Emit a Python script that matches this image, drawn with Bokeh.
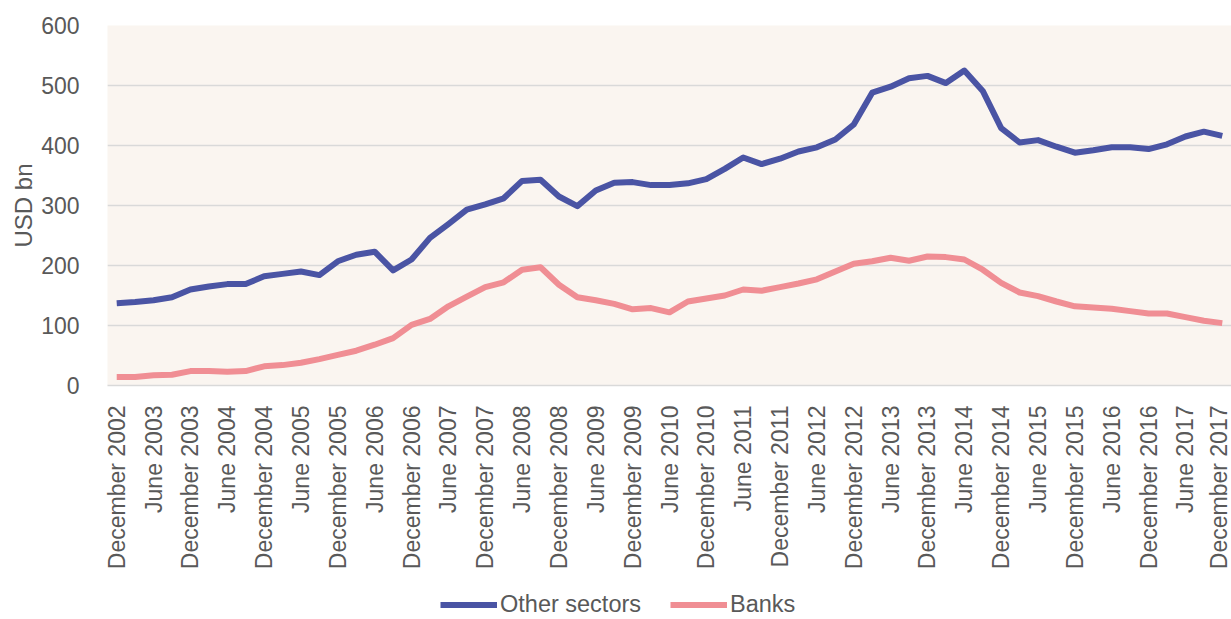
from bokeh.plotting import figure
from bokeh.layouts import column
from bokeh.models import Range1d, FixedTicker, Legend, LegendItem, ColumnDataSource
from bokeh.embed import file_html
from bokeh.resources import INLINE

# ---- data -------------------------------------------------------------
month_cycle = ["December", "March", "June", "September"]
quarters = [f"{month_cycle[i % 4]} {2002 + (i + 3) // 4}" for i in range(61)]

other_sectors = [137, 139, 142, 147, 160, 165, 169, 169, 182, 186, 190, 184, 207, 218, 223,
                 192, 210, 246, 269, 293, 302, 312, 341, 343, 315, 299, 325, 338, 339, 334,
                 334, 337, 344, 361, 380, 369, 378, 390, 397, 410, 435, 488, 498, 512, 516,
                 504, 525, 491, 429, 405, 409, 398, 388, 392, 397, 397, 394, 402, 415, 423, 416]

banks = [14, 14, 17, 18, 24, 24, 23, 24, 32, 34, 38, 44, 51, 58, 68,
         79, 101, 111, 132, 148, 164, 172, 193, 197, 168, 147, 142, 136, 127, 129,
         122, 140, 145, 150, 160, 158, 164, 170, 177, 190, 203, 207, 213, 208, 215,
         214, 210, 193, 171, 155, 149, 140, 132, 130, 128, 124, 120, 120, 114, 108, 104]

y_ticks = [0, 100, 200, 300, 400, 500, 600]
series_names = ["Other sectors", "Banks"]

# ---- styling ----------------------------------------------------------
FONT = "Liberation Sans"
TEXT = "#595959"
BLUE = "#4a54a4"
PINK = "#f08e94"
GRID = "#d9d9d9"
LW = 6

x_idx = list(range(len(quarters)))
src = ColumnDataSource(dict(x=x_idx, other=other_sectors, banks=banks, q=quarters))

p = figure(frame_width=1124, frame_height=360, output_backend="svg", toolbar_location=None,
           x_range=Range1d(-0.5, len(quarters) - 0.5), y_range=Range1d(0, 600),
           min_border_left=107, min_border_right=0, min_border_top=25, min_border_bottom=0)

p.background_fill_color = "#faf5f0"
p.border_fill_color = "white"
p.outline_line_color = None

p.line("x", "other", source=src, line_color=BLUE, line_width=LW, line_join="round")
p.line("x", "banks", source=src, line_color=PINK, line_width=LW, line_join="round")

# x axis
tick_pos = x_idx[::2]
p.xaxis.ticker = FixedTicker(ticks=tick_pos)
p.xaxis.major_label_overrides = {i: quarters[i] for i in tick_pos}
p.xaxis.major_label_orientation = 3.14159265 / 2
p.xaxis.major_tick_line_color = None
p.xaxis.minor_tick_line_color = None
p.xaxis.axis_line_color = GRID
p.xaxis.axis_line_width = 1.5
p.xaxis.major_label_standoff = 14
p.xaxis.major_label_text_font = FONT
p.xaxis.major_label_text_font_size = "23px"
p.xaxis.major_label_text_color = TEXT
p.xgrid.grid_line_color = None

# y axis
p.yaxis.ticker = FixedTicker(ticks=y_ticks)
p.yaxis.axis_line_color = None
p.yaxis.major_tick_line_color = None
p.yaxis.minor_tick_line_color = None
p.yaxis.major_label_standoff = 22
p.yaxis.major_label_text_font = FONT
p.yaxis.major_label_text_font_size = "23px"
p.yaxis.major_label_text_color = TEXT
p.yaxis.axis_label = "USD bn"
p.yaxis.axis_label_text_font = FONT
p.yaxis.axis_label_text_font_size = "24px"
p.yaxis.axis_label_text_font_style = "normal"
p.yaxis.axis_label_text_color = TEXT
p.yaxis.axis_label_standoff = 1
p.ygrid.grid_line_color = GRID
p.ygrid.grid_line_width = 1.5

# ---- legend strip below the chart ---------------------------------------
# same series, drawn out of this strip's view so only the legend shows
lg = figure(width=1231, height=46, output_backend="svg", toolbar_location=None,
            x_range=Range1d(0, 1), y_range=Range1d(0, 1), min_border=0)
lg.axis.visible = False
lg.grid.grid_line_color = None
lg.outline_line_color = None
lg.background_fill_color = "white"
l1 = lg.line("x", "other", source=src, line_color=BLUE, line_width=LW)
l2 = lg.line("x", "banks", source=src, line_color=PINK, line_width=LW)

legend = Legend(items=[LegendItem(label=series_names[0], renderers=[l1]),
                       LegendItem(label=series_names[1], renderers=[l2])],
                orientation="horizontal", location=(333, 0))
legend.label_text_font = FONT
legend.label_text_font_size = "23.5px"
legend.label_text_color = TEXT
legend.glyph_width = 57
legend.glyph_height = 23
legend.label_height = 23
legend.label_standoff = 3
legend.spacing = 29
legend.padding = 2
legend.margin = 0
legend.border_line_color = None
legend.background_fill_alpha = 0
lg.add_layout(legend, "center")

layout = column(p, lg, spacing=0)
open("out.html", "w").write(file_html(layout, INLINE))
